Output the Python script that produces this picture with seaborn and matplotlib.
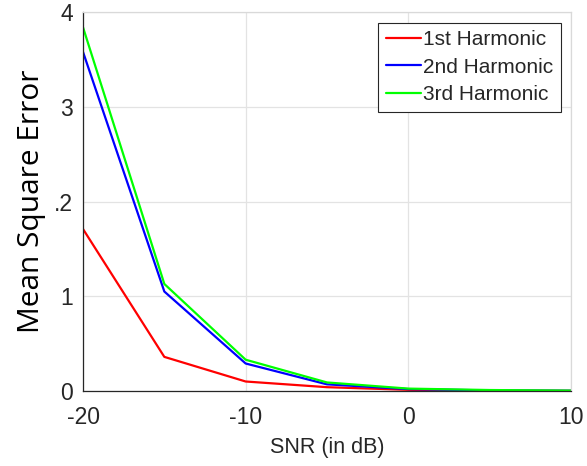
import numpy as np
import pandas as pd
import seaborn as sns
import matplotlib.pyplot as plt

snr = [-20, -15, -10, -5, 0, 5, 10]
h1 = [1.71, 0.36, 0.10, 0.04, 0.012, 0.004, 0.001]
h2 = [3.58, 1.05, 0.29, 0.07, 0.02, 0.006, 0.002]
h3 = [3.84, 1.13, 0.33, 0.09, 0.025, 0.01, 0.004]
names = ['1st Harmonic', '2nd Harmonic', '3rd Harmonic']
colors = ['#ff0000', '#0000ff', '#00ff00']
yticks = [0, 1, 2, 3, 4]
yticklabels = ['0', '1', '.2', '3', '4']

df = pd.DataFrame({
    'snr': snr * 3,
    'mse': h1 + h2 + h3,
    'series': sum([[n] * len(snr) for n in names], []),
})

sns.set_style('whitegrid')
plt.rcParams['font.family'] = ['Liberation Sans', 'DejaVu Sans']
plt.rcParams['axes.unicode_minus'] = False

fig = plt.figure(figsize=(5.87, 4.66), dpi=100)
ax = fig.add_axes([0.1414, 0.161, 0.8313, 0.813])

sns.lineplot(data=df, x='snr', y='mse', hue='series', palette=colors,
             linewidth=1.6, ax=ax)

ax.set_xlim(-20, 10)
ax.set_ylim(0, 4)
ax.set_xticks([-20, -10, 0, 10])
ax.set_yticks(yticks)
ax.set_yticklabels(yticklabels)
ax.tick_params(labelsize=16.5, colors='#262626', length=4, direction='in')
ax.tick_params(axis='x', pad=10.5)
ax.tick_params(axis='y', pad=7)
ax.grid(True, color='#e3e3e3', linewidth=0.9)
for s in ['left', 'bottom']:
    ax.spines[s].set_color('#262626')
    ax.spines[s].set_linewidth(0.9)
for s in ['top', 'right']:
    ax.spines[s].set_color('#d9d9d9')
    ax.spines[s].set_linewidth(0.9)

ax.set_xlabel('SNR (in dB)', fontsize=15.5, color='#262626', labelpad=6)
ax.set_ylabel('Mean Square Error', fontsize=21.5, color='black',
              family='Open Sans', labelpad=6)

leg = ax.legend(loc='upper right', fontsize=15, frameon=True, fancybox=False,
                edgecolor='#262626', framealpha=1, handlelength=1.7,
                handletextpad=0.1, borderaxespad=0.5, labelspacing=0.42,
                borderpad=0.35, bbox_to_anchor=(1.0, 1.0))
leg.get_frame().set_linewidth(0.8)

fig.savefig('out.png', dpi=100)
